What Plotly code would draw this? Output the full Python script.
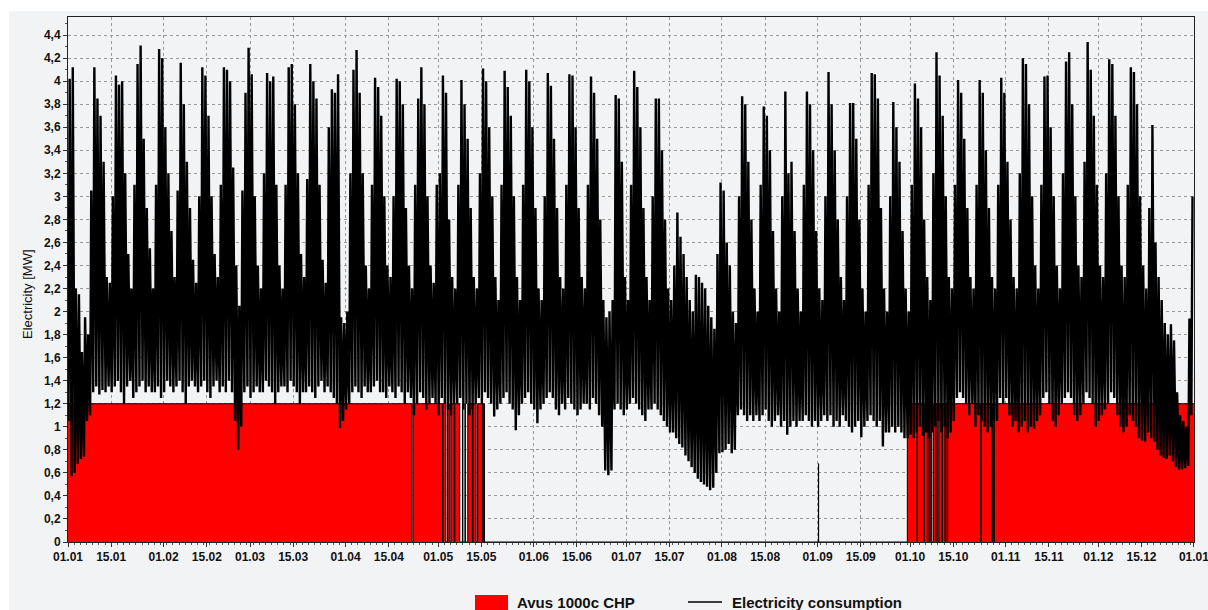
import plotly.graph_objects as go
from datetime import datetime, timedelta

# ---------------- data ----------------
YEAR_START = "2018-01-01"

# daily maximum of electricity consumption [MW], one row per week (Mon..Sun)
DAILY_MAX_MW = [
    4.02, 4.12, 2.20, 2.15, 1.65, 1.95, 1.80,
    3.05, 4.12, 3.85, 3.70, 3.30, 2.30, 2.25,
    3.00, 4.05, 3.97, 4.00, 3.20, 2.50, 2.20,
    3.10, 4.15, 4.31, 3.50, 2.90, 2.55, 2.20,
    3.10, 4.28, 4.20, 3.60, 3.20, 2.70, 2.30,
    3.05, 4.16, 3.80, 3.30, 2.90, 2.45, 2.25,
    3.00, 4.12, 4.05, 3.70, 3.00, 2.50, 2.30,
    3.10, 4.12, 4.10, 4.00, 3.25, 2.40, 2.05,
    3.05, 3.90, 4.29, 4.06, 3.00, 2.40, 2.20,
    3.20, 4.07, 4.00, 4.04, 3.10, 2.40, 2.20,
    3.10, 4.12, 4.15, 3.80, 3.20, 2.50, 2.30,
    3.15, 4.15, 4.00, 3.85, 3.10, 2.45, 2.25,
    3.60, 3.93, 3.90, 4.06, 1.95, 1.90, 2.00,
    3.20, 4.10, 4.27, 3.90, 3.20, 2.40, 2.20,
    3.10, 4.03, 3.95, 3.70, 3.00, 2.40, 2.30,
    3.00, 4.02, 4.00, 3.80, 2.90, 2.40, 2.20,
    3.10, 3.85, 4.12, 3.80, 3.00, 2.40, 2.25,
    3.10, 3.20, 4.05, 3.90, 2.80, 2.30, 2.20,
    3.10, 4.01, 3.80, 3.50, 2.90, 2.30, 2.20,
    3.20, 4.11, 4.00, 3.60, 3.00, 2.30, 2.10,
    3.10, 4.09, 3.95, 3.70, 3.00, 2.30, 2.10,
    3.10, 4.10, 4.00, 3.60, 2.90, 2.20, 2.10,
    3.00, 4.07, 3.96, 3.50, 2.90, 2.30, 2.20,
    3.10, 4.06, 4.05, 3.60, 2.90, 2.30, 2.20,
    3.10, 4.04, 3.90, 3.50, 2.80, 2.10, 1.95,
    2.00, 2.10, 3.88, 3.85, 3.30, 2.30, 2.10,
    3.10, 4.09, 3.95, 3.60, 2.90, 2.30, 2.10,
    3.00, 3.85, 3.85, 3.40, 2.80, 2.20, 2.10,
    2.40, 2.86, 2.65, 2.50, 2.30, 2.10, 2.00,
    2.32, 2.30, 2.25, 2.20, 2.05, 1.95, 1.85,
    2.50, 3.12, 3.05, 2.60, 2.40, 2.00, 1.90,
    3.00, 3.87, 3.80, 3.30, 2.80, 2.20, 2.00,
    3.10, 3.78, 3.70, 3.40, 2.70, 2.20, 2.00,
    3.00, 3.91, 3.20, 3.30, 2.70, 2.20, 2.00,
    3.10, 3.91, 3.80, 3.40, 2.70, 2.20, 2.10,
    3.00, 4.08, 3.80, 3.40, 2.80, 2.30, 2.10,
    3.00, 3.81, 3.81, 3.50, 2.80, 2.20, 2.00,
    3.10, 4.07, 4.06, 3.85, 2.90, 2.20, 2.00,
    3.00, 3.82, 3.60, 3.30, 2.70, 2.20, 2.00,
    3.10, 3.98, 3.85, 3.60, 2.80, 2.30, 2.10,
    3.20, 4.25, 4.05, 3.70, 3.00, 2.30, 2.20,
    3.10, 4.01, 3.90, 3.50, 2.90, 2.30, 2.20,
    3.10, 4.01, 3.90, 3.40, 2.90, 2.30, 2.20,
    3.10, 4.03, 3.90, 3.30, 2.80, 2.30, 2.20,
    3.20, 4.20, 4.15, 3.80, 3.00, 2.40, 2.20,
    3.10, 4.04, 4.05, 3.60, 3.00, 2.40, 2.20,
    3.20, 4.17, 4.25, 3.80, 3.00, 2.40, 2.30,
    3.30, 4.34, 4.10, 3.70, 3.10, 2.40, 2.30,
    3.20, 4.19, 4.15, 3.70, 3.00, 2.40, 2.30,
    3.10, 4.12, 4.08, 3.80, 3.00, 2.40, 2.20,
    2.90, 3.62, 2.60, 2.30, 2.10, 1.90, 1.80,
    1.89, 1.75, 1.30, 1.10, 1.05, 1.00, 1.94,
    3.00,
]

# daily minimum of electricity consumption [MW]
DAILY_MIN_MW = [
    1.05, 0.57, 0.60, 0.68, 0.72, 0.74, 1.05,
    1.10, 1.30, 1.35, 1.28, 1.32, 1.30, 1.35,
    1.30, 1.35, 1.40, 1.30, 1.20, 1.35, 1.40,
    1.25, 1.30, 1.35, 1.40, 1.30, 1.35, 1.30,
    1.30, 1.35, 1.25, 1.30, 1.40, 1.35, 1.30,
    1.35, 1.40, 1.30, 1.20, 1.35, 1.40, 1.35,
    1.30, 1.35, 1.40, 1.30, 1.25, 1.35, 1.40,
    1.30, 1.35, 1.30, 1.40, 1.30, 1.05, 0.80,
    1.00, 1.30, 1.35, 1.25, 1.30, 1.35, 1.30,
    1.30, 1.40, 1.35, 1.30, 1.20, 1.30, 1.35,
    1.35, 1.30, 1.40, 1.35, 1.30, 1.20, 1.30,
    1.30, 1.35, 1.30, 1.25, 1.35, 1.40, 1.30,
    1.35, 1.30, 1.25, 1.20, 0.99, 1.05, 1.15,
    1.20, 1.30, 1.35, 1.30, 1.25, 1.35, 1.30,
    1.30, 1.35, 1.40, 1.30, 1.30, 1.25, 1.35,
    1.30, 1.25, 1.35, 1.30, 1.20, 1.30, 1.25,
    1.10, 1.20, 1.30, 1.25, 1.15, 1.20, 1.25,
    1.20, 1.10, 1.25, 1.20, 1.15, 1.10, 1.20,
    1.20, 1.25, 1.15, 1.20, 1.10, 1.15, 1.20,
    1.25, 1.20, 1.30, 1.25, 1.20, 1.09, 1.15,
    1.20, 1.25, 1.30, 1.20, 1.15, 0.97, 1.10,
    1.20, 1.25, 1.30, 1.20, 1.15, 1.03, 1.15,
    1.20, 1.25, 1.30, 1.25, 1.15, 1.10, 1.20,
    1.15, 1.25, 1.20, 1.15, 1.10, 1.15, 1.20,
    1.20, 1.15, 1.25, 1.20, 1.10, 1.00, 0.62,
    0.58, 0.62, 1.15, 1.20, 1.15, 1.10, 1.15,
    1.20, 1.25, 1.20, 1.15, 1.10, 1.05, 1.15,
    1.15, 1.20, 1.15, 1.10, 1.05, 1.00, 0.95,
    0.95, 0.90, 0.85, 0.82, 0.75, 0.70, 0.65,
    0.60, 0.55, 0.52, 0.50, 0.48, 0.45, 0.47,
    0.60, 0.77, 0.78, 0.80, 0.85, 0.77, 0.80,
    1.10, 1.15, 1.10, 1.05, 1.10, 1.05, 1.10,
    1.05, 1.10, 1.15, 1.05, 1.00, 1.05, 1.10,
    1.00, 1.05, 0.93, 1.00, 1.05, 1.00, 1.05,
    1.05, 1.10, 1.05, 1.00, 1.05, 1.00, 1.05,
    1.10, 1.05, 1.10, 1.00, 1.05, 1.00, 1.10,
    1.05, 1.00, 0.95, 1.00, 1.05, 0.91, 1.00,
    1.05, 1.10, 1.05, 1.00, 1.05, 0.83, 0.95,
    0.95, 1.00, 0.95, 1.00, 0.95, 0.90, 0.90,
    0.93, 0.90, 0.95, 1.00, 0.92, 0.95, 0.90,
    0.95, 1.00, 1.05, 0.95, 1.00, 0.90, 0.95,
    1.05, 1.25, 1.30, 1.25, 1.20, 1.10, 1.20,
    1.00, 1.10, 1.05, 1.00, 0.95, 1.00, 1.05,
    1.05, 1.25, 1.20, 1.25, 1.10, 1.00, 1.05,
    0.95, 1.00, 1.05, 0.95, 1.00, 0.98, 1.05,
    1.10, 1.25, 1.30, 1.20, 1.05, 1.00, 1.10,
    1.20, 1.25, 1.30, 1.25, 1.10, 1.05, 1.10,
    1.20, 1.30, 1.25, 1.20, 1.00, 1.05, 1.10,
    1.15, 1.20, 1.30, 1.25, 1.10, 1.00, 0.95,
    1.00, 1.10, 1.05, 1.00, 0.90, 0.88, 0.87,
    0.95, 0.90, 0.87, 0.80, 0.75, 0.73, 0.72,
    0.75, 0.70, 0.65, 0.63, 0.63, 0.64, 0.66,
    1.10,
]

# CHP operation: day-of-year where the output changes, and the output from then on [MW]
CHP_SWITCH_DAY = [
    0.0, 111.4, 111.8, 121.4, 121.6, 122.5, 123.0, 123.6, 124.1, 125.2,
    125.4, 127.0, 127.9, 128.0, 128.7, 128.8, 129.6, 131.1, 131.3, 132.3,
    132.8, 134.4, 134.6, 135.0, 243.28, 243.33, 272.1, 275.2, 275.4, 277.4,
    277.6, 278.6, 278.8, 279.3, 279.5, 280.0, 280.5, 281.2, 281.4, 282.0,
    282.3, 283.3, 283.5, 284.3, 284.5, 285.0, 285.15, 295.9, 296.05, 299.5,
    299.7, 300.1, 300.3, 365.0,
]
CHP_OUTPUT_MW = [
    1.2, 0, 1.2, 0, 1.2, 0, 1.2, 0, 1.2, 0,
    1.2, 0, 1.2, 0, 1.2, 0, 1.2, 0, 1.2, 0,
    1.2, 0, 1.2, 0, 0.68, 0, 1.2, 0, 1.2, 0,
    1.2, 0, 1.2, 0, 1.2, 0, 1.2, 0, 1.2, 0,
    1.2, 0, 1.2, 0, 1.2, 0, 1.2, 0, 1.2, 0,
    1.2, 0, 1.2, 1.2,
]

TICK_DATES = [
    "2018-01-01", "2018-01-15", "2018-02-01", "2018-02-15", "2018-03-01",
    "2018-03-15", "2018-04-01", "2018-04-15", "2018-05-01", "2018-05-15",
    "2018-06-01", "2018-06-15", "2018-07-01", "2018-07-15", "2018-08-01",
    "2018-08-15", "2018-09-01", "2018-09-15", "2018-10-01", "2018-10-15",
    "2018-11-01", "2018-11-15", "2018-12-01", "2018-12-15", "2019-01-01",
]
TICK_LABELS = [
    "01.01", "15.01", "01.02", "15.02", "01.03", "15.03", "01.04", "15.04",
    "01.05", "15.05", "01.06", "15.06", "01.07", "15.07", "01.08", "15.08",
    "01.09", "15.09", "01.10", "15.10", "01.11", "15.11", "01.12", "15.12",
    "01.01",
]

SERIES_NAMES = ["Avus 1000c CHP", "Electricity consumption"]
SERIES_COLORS = ["#FF0000", "#000000"]
Y_TITLE = "Electricity [MW]"

# ---------------- build figure ----------------
base = datetime.fromisoformat(YEAR_START)


def at(day):
    return base + timedelta(days=day)


MIN_HOUR = 4   # time of day where the daily minimum is placed
MAX_HOUR = 13  # time of day where the daily maximum is placed

cons_x, cons_y = [], []
for d, (lo, hi) in enumerate(zip(DAILY_MIN_MW, DAILY_MAX_MW)):
    cons_x.append(at(d + MIN_HOUR / 24))
    cons_y.append(lo)
    cons_x.append(at(d + MAX_HOUR / 24))
    cons_y.append(hi)

fig = go.Figure()

fig.add_trace(go.Scatter(
    x=[at(d) for d in CHP_SWITCH_DAY], y=CHP_OUTPUT_MW,
    mode="lines", line=dict(color="black", width=1, shape="hv"),
    fill="tozeroy", fillcolor=SERIES_COLORS[0],
    name=SERIES_NAMES[0], showlegend=False, hoverinfo="skip",
))
fig.add_trace(go.Scatter(
    x=cons_x, y=cons_y, mode="lines",
    line=dict(color=SERIES_COLORS[1], width=2.4),
    name=SERIES_NAMES[1], showlegend=False,
))

tick_font = dict(family="Liberation Sans, Arial, sans-serif", size=12,
                 color="#111111", weight="bold")

fig.update_xaxes(
    type="date",
    range=[at(0), at(365.02)],
    tickmode="array", tickvals=TICK_DATES, ticktext=TICK_LABELS,
    tickfont=tick_font, ticklabeloverflow="allow",
    ticks="outside", ticklen=4, tickcolor="#333333",
    showgrid=True, gridcolor="#9A9A9A", gridwidth=1, griddash="3px,3px",
    showline=True, linecolor="#222222", linewidth=1, mirror=True,
    zeroline=False,
    minor=dict(tickmode="linear", tick0=YEAR_START, dtick=2 * 86400000,
               ticks="outside", ticklen=2, tickcolor="#555555", showgrid=False),
)
fig.update_yaxes(
    range=[0, 4.557],
    tickmode="linear", tick0=0, dtick=0.2,
    tickfont=tick_font,
    ticks="outside", ticklen=4, tickcolor="#333333",
    showgrid=True, gridcolor="#9A9A9A", gridwidth=1, griddash="3px,3px",
    showline=True, linecolor="#222222", linewidth=1, mirror=True,
    zeroline=False,
    minor=dict(dtick=0.1, ticks="outside", ticklen=2, tickcolor="#555555",
               showgrid=False),
)

# ---- legend and axis title drawn in the margins (paper coordinates) ----
PLOT_L, PLOT_W, PLOT_B, PLOT_H = 68, 1126, 542, 525


def px_x(px):
    return (px - PLOT_L) / PLOT_W


def px_y(py):
    return (PLOT_B - py) / PLOT_H


legend_font = dict(family="Liberation Sans, Arial, sans-serif", size=15,
                   color="#111111", weight="bold")
shapes = [
    dict(type="rect", xref="paper", yref="paper", layer="below",
         x0=px_x(9), x1=px_x(1212), y0=px_y(615), y1=px_y(11),
         fillcolor="#F2F3F5", line=dict(width=0)),
    dict(type="rect", xref="paper", yref="paper", layer="above",
         x0=px_x(475), x1=px_x(508), y0=px_y(610), y1=px_y(595),
         fillcolor=SERIES_COLORS[0], line=dict(width=0)),
    dict(type="line", xref="paper", yref="paper", layer="above",
         x0=px_x(688), x1=px_x(722), y0=px_y(602), y1=px_y(602),
         line=dict(color=SERIES_COLORS[1], width=1.6)),
]
annotations = [
    dict(text=SERIES_NAMES[0], xref="paper", yref="paper", x=px_x(515),
         y=px_y(602), xanchor="left", yanchor="middle", showarrow=False,
         font=legend_font),
    dict(text=SERIES_NAMES[1], xref="paper", yref="paper", x=px_x(730),
         y=px_y(602), xanchor="left", yanchor="middle", showarrow=False,
         font=legend_font),
    dict(text=Y_TITLE, xref="paper", yref="paper", x=px_x(27),
         y=px_y(294), xanchor="center", yanchor="middle", showarrow=False,
         textangle=-90,
         font=dict(family="Liberation Sans, Arial, sans-serif", size=13,
                   color="#111111")),
]

fig.update_layout(
    width=1208, height=610, autosize=False,
    margin=dict(l=68, r=14, t=17, b=68, pad=0, autoexpand=False),
    paper_bgcolor="white", plot_bgcolor="#F5F6F8",
    separators=", ",
    showlegend=False,
    shapes=shapes,
    annotations=annotations,
    hovermode=False,
)

fig.write_html("out.html", include_plotlyjs=True, full_html=True,
               config={"displayModeBar": False})
with open("out.html", "r", encoding="utf-8") as f:
    html = f.read()
html = html.replace("<body>", '<body style="margin:0;padding:0;">', 1)
with open("out.html", "w", encoding="utf-8") as f:
    f.write(html)
